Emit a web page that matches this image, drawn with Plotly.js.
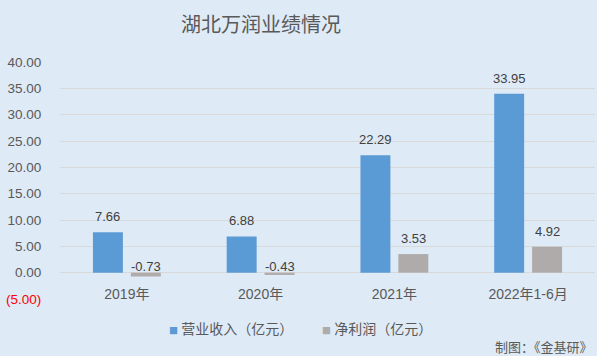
<!DOCTYPE html>
<html>
<head>
<meta charset="utf-8">
<script src="https://cdn.plot.ly/plotly-3.0.1.min.js"></script>
<style>html,body{margin:0;padding:0;background:#DEEAF6;}#chart{width:597px;height:356px;}</style>
</head>
<body>
<div id="chart"></div>
<script>
const categories = ['2019年', '2020年', '2021年', '2022年1-6月'];
const revenue = [7.66, 6.88, 22.29, 33.95];
const netProfit = [-0.73, -0.43, 3.53, 4.92];
const seriesNames = ['营业收入（亿元）', '净利润（亿元）'];
const yTickVals = [-5, 0, 5, 10, 15, 20, 25, 30, 35, 40];
const yTickText = ["<span style='color:#FF0000'>(5.00)</span>", '0.00', '5.00', '10.00', '15.00', '20.00', '25.00', '30.00', '35.00', '40.00'];
const titleText = '湖北万润业绩情况';
const sourceText = '制图：《金基研》';

const yMin = -5, yMax = 40;
const FONT = 'Liberation Sans, Noto Sans CJK SC, sans-serif';
const CJK = 'Noto Sans CJK SC, sans-serif';
const colors = ['#5B9BD5', '#AFABAB'];
const series = [revenue, netProfit];

const traces = series.map((vals, k) => ({
  type: 'bar', x: categories, y: vals, name: seriesNames[k],
  marker: {color: colors[k]}, hoverinfo: 'skip'
}));

const annotations = [];
series.forEach((vals, k) => {
  vals.forEach((v, i) => {
    annotations.push({
      x: categories[i], y: Math.max(v, 0), xref: 'x', yref: 'y',
      text: v.toFixed(2), showarrow: false, yanchor: 'bottom',
      xshift: k === 0 ? -19 : 19, yshift: v >= 0 ? 6 : -3,
      font: {family: FONT, size: 13, color: '#404040'}
    });
  });
});
// legend drawn as annotations
const legendX = [0.2, 0.486];
seriesNames.forEach((name, k) => {
  annotations.push({
    xref: 'paper', yref: 'paper', x: legendX[k], y: -0.122, xanchor: 'left', yanchor: 'middle',
    showarrow: false,
    text: "<span style='color:" + colors[k] + ";font-size:9px'>■</span> " + name,
    font: {family: CJK, size: 14, color: '#595959'}
  });
});
annotations.push({
  text: sourceText, xref: 'paper', yref: 'paper', x: 1, y: -0.2, xanchor: 'right', yanchor: 'middle',
  showarrow: false, font: {family: CJK, size: 13, color: '#595959'}
});

const layout = {
  width: 597, height: 356,
  margin: {l: 60, r: 2, t: 62, b: 57},
  paper_bgcolor: '#DEEAF6', plot_bgcolor: '#DEEAF6',
  font: {family: FONT, color: '#595959'},
  title: {text: titleText, x: 261/597, xref: 'container', xanchor: 'center', y: 1 - 25/356, yref: 'container', yanchor: 'middle',
          font: {family: CJK, size: 20, color: '#595959'}},
  barmode: 'group', bargap: 0.433, bargroupgap: 0.21,
  xaxis: {type: 'category', anchor: 'free', position: (0 - yMin) / (yMax - yMin),
          showgrid: false, showline: false, zeroline: false,
          ticks: 'outside', ticklen: 9, tickcolor: 'rgba(0,0,0,0)',
          tickfont: {family: FONT, size: 14, color: '#595959'}},
  yaxis: {range: [yMin, yMax], tickvals: yTickVals, ticktext: yTickText,
          showgrid: true, gridcolor: '#D9D9D9', gridwidth: 1, zeroline: false, showline: false,
          ticks: 'outside', ticklen: 15, tickcolor: 'rgba(0,0,0,0)',
          tickfont: {family: FONT, size: 13.5, color: '#595959'}},
  showlegend: false,
  annotations: annotations
};

Plotly.newPlot('chart', traces, layout, {displayModeBar: false, staticPlot: true});
</script>
</body>
</html>
